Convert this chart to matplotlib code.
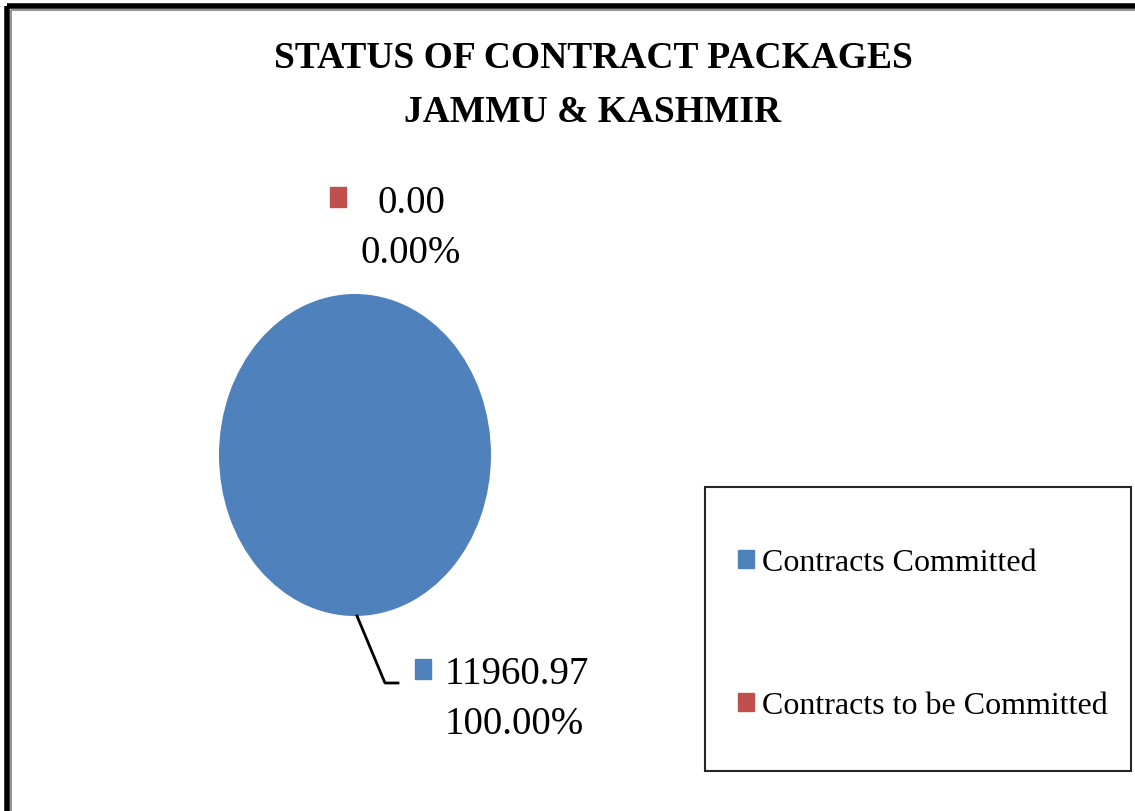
import matplotlib as mpl

mpl.use("Agg")
import matplotlib.pyplot as plt
from matplotlib.lines import Line2D
from matplotlib.patches import Rectangle

W, H = 1135, 812

TITLE = "STATUS OF CONTRACT PACKAGES\nJAMMU & KASHMIR"
categories = ["Contracts Committed", "Contracts to be Committed"]
values = [11960.97, 0.00]
colors = ["#4F81BD", "#C0504D"]

SERIF = ["Liberation Serif", "DejaVu Serif"]
INK = "#000000"


def fx(px):
    return px / W


def fy(py):
    return 1 - py / H


fig = plt.figure(figsize=(W / 100, H / 100), dpi=100)
fig.patch.set_facecolor("white")

# double frame on top and left edges
for coords, lw, col in (
    (((fx(7), fx(7)), (fy(812), fy(7))), 4, INK),
    (((fx(7), fx(1135)), (fy(7), fy(7))), 4, INK),
    (((fx(10.5), fx(10.5)), (fy(812), fy(10.5))), 1.2, "#808080"),
    (((fx(10.5), fx(1135)), (fy(10.5), fy(10.5))), 1.2, "#808080"),
):
    fig.add_artist(Line2D(coords[0], coords[1], lw=lw, color=col,
                          transform=fig.transFigure, solid_capstyle="butt"))

# title
for i, line in enumerate(TITLE.split("\n")):
    fig.text(fx(593), fy(68 + 54 * i), line, ha="center", va="baseline",
             fontsize=27, fontweight="bold", family=SERIF, color=INK)

# pie (stretched vertically like the source)
cx, cy, rw, rh = 355, 456, 272, 322
ax = fig.add_axes([fx(cx - rw / 2), fy(cy + rh / 2), rw / W, rh / H])
wedges, _ = ax.pie(values, colors=colors, startangle=90, counterclock=False,
                   wedgeprops={"linewidth": 0})
ax.set_aspect("auto")
ax.set_xlim(-1, 1)
ax.set_ylim(-1, 1)
ax.axis("off")

total = sum(values)
pcts = [v / total * 100 for v in values]

# data labels
fig.add_artist(Rectangle((fx(330), fy(208)), 16 / W, 20 / H, color=colors[1],
                         transform=fig.transFigure))
fig.text(fx(411), fy(213), f"{values[1]:.2f}", ha="center", va="baseline",
         fontsize=28, family=SERIF, color=INK)
fig.text(fx(411), fy(263), f"{pcts[1]:.2f}%", ha="center", va="baseline",
         fontsize=28, family=SERIF, color=INK)

fig.add_artist(Line2D([fx(357), fx(385), fx(398)], [fy(617), fy(684), fy(684)],
                      lw=2, color=INK, transform=fig.transFigure))
fig.add_artist(Rectangle((fx(415), fy(680)), 16 / W, 20 / H, color=colors[0],
                         transform=fig.transFigure))
fig.text(fx(445), fy(684), f"{values[0]:.2f}", ha="left", va="baseline",
         fontsize=28, family=SERIF, color=INK)
fig.text(fx(445), fy(734), f"{pcts[0]:.2f}%", ha="left", va="baseline",
         fontsize=28, family=SERIF, color=INK)

# legend box
fig.add_artist(Rectangle((fx(705), fy(772)), 426 / W, 284 / H, fill=False,
                         edgecolor="#262626", lw=1.5, transform=fig.transFigure))
for i, (name, col) in enumerate(zip(categories, colors)):
    base = 571 + 143 * i
    fig.add_artist(Rectangle((fx(738), fy(base - 2)), 16 / W, 18 / H, color=col,
                             transform=fig.transFigure))
    fig.text(fx(762), fy(base), name, ha="left", va="baseline",
             fontsize=23, family=SERIF, color=INK)

fig.savefig("out.png", dpi=100)
